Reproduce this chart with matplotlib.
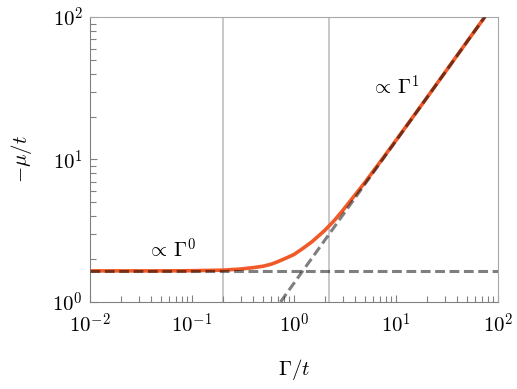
import numpy as np
import matplotlib
matplotlib.use("Agg")
import matplotlib.pyplot as plt
from matplotlib.ticker import FuncFormatter, LogLocator, NullFormatter

plt.rcParams['mathtext.fontset'] = 'cm'
plt.rcParams['font.family'] = 'serif'

# chemical potential vs. dissipation
gamma = [0.01, 0.02, 0.05, 0.1, 0.2, 0.3, 0.4, 0.5, 0.6, 0.7, 0.8, 1.0,
         1.2, 1.5, 2.0, 2.5, 3.0, 4.0, 5.0, 7.0, 10.0, 20.0, 30.0, 50.0, 75.0]
mu = [1.65, 1.65, 1.65, 1.655, 1.67, 1.70, 1.74, 1.78, 1.84, 1.92, 2.0,
      2.15, 2.35, 2.64, 3.17, 3.74, 4.37, 5.67, 6.94, 9.6, 13.6, 27.0,
      40.5, 67.5, 101.0]

# asymptotes
const_x = [0.01, 100.0]
const_y = [1.65, 1.65]
lin_x = [0.74, 75.0]
lin_y = [1.0, 101.0]

# marked values of Gamma/t
vlines = [0.2, 2.2]

fig = plt.figure(figsize=(5.17, 3.89), dpi=100)
ax = fig.add_axes([0.174, 0.224, 0.789, 0.732])

for xv in vlines:
    ax.axvline(xv, color='#c4c4c4', lw=1.3, zorder=1)

ax.plot(gamma, mu, color='#f05a28', lw=2.6, zorder=2, solid_joinstyle='round')
ax.plot(const_x, const_y, color='black', alpha=0.5, lw=2.2, dashes=(3.2, 1.5), zorder=3)
ax.plot(lin_x, lin_y, color='black', alpha=0.5, lw=2.2, dashes=(3.2, 1.5), zorder=3)

ax.set_xscale('log')
ax.set_yscale('log')
ax.set_xlim(1e-2, 1e2)
ax.set_ylim(1, 1e2)

fmt = FuncFormatter(lambda v, p: r'$10^{%d}$' % int(round(np.log10(v))))
ax.xaxis.set_major_formatter(fmt)
ax.yaxis.set_major_formatter(fmt)
ax.xaxis.set_minor_formatter(NullFormatter())
ax.yaxis.set_minor_formatter(NullFormatter())
ax.xaxis.set_minor_locator(LogLocator(base=10, subs=np.arange(2, 10)))
ax.yaxis.set_minor_locator(LogLocator(base=10, subs=np.arange(2, 10)))

ax.tick_params(which='both', direction='in', color='#808080', width=0.8,
               labelsize=15, top=False, right=False)
ax.tick_params(which='major', length=5)
ax.tick_params(which='minor', length=4)
ax.tick_params(axis='x', which='major', pad=8)
ax.tick_params(axis='y', which='major', pad=5)

for side in ['left', 'bottom']:
    ax.spines[side].set_color('#808080')
for side in ['top', 'right']:
    ax.spines[side].set_color('#a8a8a8')

ax.set_xlabel(r'$\Gamma/t$', fontsize=15, labelpad=14)
ax.set_ylabel(r'$-\mu/t$', fontsize=15, labelpad=13)

ax.text(0.036, 2.04, r'$\propto\,\Gamma^0$', fontsize=15, ha='left', va='baseline')
ax.text(5.7, 28.5, r'$\propto\,\Gamma^1$', fontsize=15, ha='left', va='baseline')

fig.savefig('out.png', dpi=100)
